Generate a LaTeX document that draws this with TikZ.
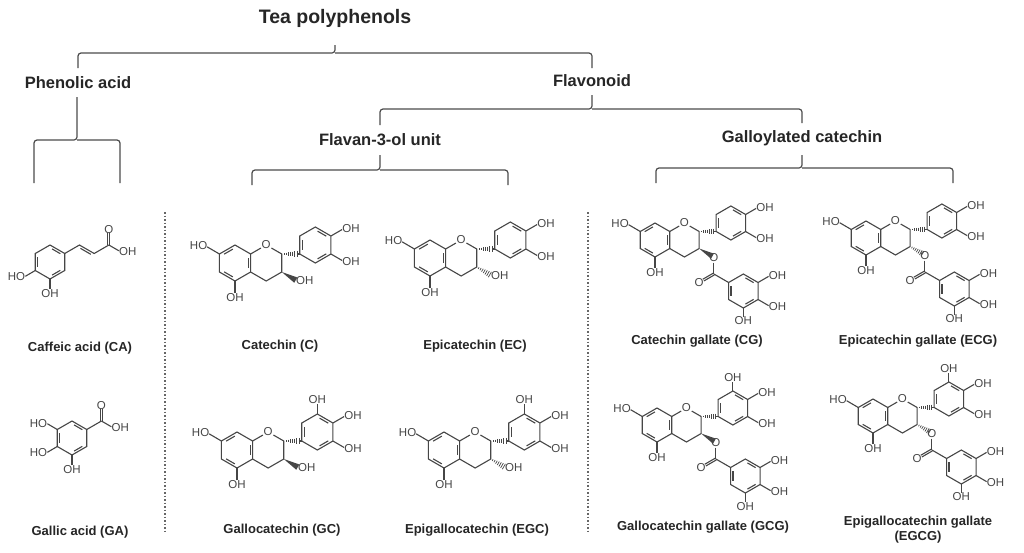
\documentclass[tikz,border=0pt]{standalone}
\usepackage{fontspec}
\setmainfont{Liberation Sans}
\usetikzlibrary{calc}
\definecolor{molc}{RGB}{70,70,70}
\tikzset{
  head/.style={font=\bfseries\fontsize{16.5}{18}\selectfont, text=black!85},
  molname/.style={font=\bfseries\fontsize{13}{15}\selectfont, text=black!85, align=center},
  brace/.style={draw=black!70, line width=1.2pt, rounded corners=3pt},
  sep/.style={draw=black!60, line width=1.5pt, dotted},
  bond/.style={draw=molc, line width=1.1pt},
  lab/.style={font=\fontsize{11.5}{12}\selectfont, text=molc, inner sep=0.6pt},
}
\newcommand{\hexring}[3]{%
  \draw[bond] ($(#1,#2)+(30:1)$) -- ($(#1,#2)+(90:1)$) -- ($(#1,#2)+(150:1)$) -- ($(#1,#2)+(210:1)$) -- ($(#1,#2)+(270:1)$) -- ($(#1,#2)+(330:1)$) -- cycle;
  \foreach \a in {#3}{\draw[bond] ($(#1,#2)+({\a+9}:0.78)$) -- ($(#1,#2)+({\a+51}:0.78)$);}%
}
\newcommand{\hashb}[3]{%
  \foreach \t in {0.12,0.24,...,0.9}{%
    \pgfmathsetmacro{\hh}{0.03+0.17*\t}%
    \draw[draw=molc,line width=0.7pt] ($(#1,#2)+(#3:\t)+({#3+90}:\hh)$) -- ($(#1,#2)+(#3:\t)+({#3-90}:\hh)$);}%
}
\newcommand{\wedgeb}[3]{%
  \fill[molc] (#1,#2) -- ($(#1,#2)+(#3:0.9)+({#3+90}:0.17)$) -- ($(#1,#2)+(#3:0.9)+({#3-90}:0.17)$) -- cycle;}
\newcommand{\flavan}[6]{%
\begin{scope}[shift={(#1,#2)}, x=#6pt, y=#6pt]
  \hexring{0}{0}{330,90,210}
  \node[lab] (ringO) at (1.732,1) {O};
  \draw[bond] (0.866,0.5) -- (ringO);
  \draw[bond] (ringO) -- (2.598,0.5) -- (2.598,-0.5) -- (1.732,-1) -- (0.866,-0.5);
  \draw[bond] (-0.866,0.5) -- (-1.55,0.9);
  \node[lab,anchor=east] (h7) at (-1.5,0.95) {HO};
  \draw[bond] (0,-1) -- (0,-1.65);
  \node[lab,anchor=north] (h5) at (0,-1.63) {OH};
  \hashb{2.598}{0.5}{0}
  \draw[bond] (3.45,0.5) -- (3.598,0.5);
  \hexring{4.464}{1}{30,150,270}
  \draw[bond] (5.33,1.5) -- (5.95,1.86);
  \node[lab,anchor=west] (h3p) at (5.92,1.9) {OH};
  \draw[bond] (5.33,0.5) -- (5.95,0.14);
  \node[lab,anchor=west] (h4p) at (5.92,0.1) {OH};
  \ifnum#3=1
    \draw[bond] (4.464,2) -- (4.464,2.55);
    \node[lab,anchor=south] (h5p) at (4.464,2.53) {OH};
  \fi
  \ifnum#4=1 \hashb{2.598}{-0.5}{330}\else\wedgeb{2.598}{-0.5}{330}\fi
  \ifnum#5=0
    \node[lab,anchor=west] (h3) at (3.35,-1.0) {OH};
  \else
    \node[lab] (eO) at (3.464,-1.05) {O};
    \draw[bond] (eO) -- (3.464,-2);
    \node[lab] (cO) at (2.598,-2.5) {O};
    \draw[bond] ($(3.464,-2)+(120:0.06)$) -- ($(cO.center)+(120:0.06)+(30:0.28)$);
    \draw[bond] ($(3.464,-2)+(300:0.06)$) -- ($(cO.center)+(300:0.06)+(30:0.28)$);
    \draw[bond] (3.464,-2) -- (4.33,-2.5);
    \hexring{5.196}{-3}{150,270,30}
    \draw[bond] (6.062,-2.5) -- (6.68,-2.14);
    \node[lab,anchor=west] (g1) at (6.65,-2.1) {OH};
    \draw[bond] (6.062,-3.5) -- (6.68,-3.86);
    \node[lab,anchor=west] (g2) at (6.65,-3.9) {OH};
    \draw[bond] (5.196,-4) -- (5.196,-4.5);
    \node[lab,anchor=north] (g3) at (5.196,-4.48) {OH};
  \fi
\end{scope}}
\begin{document}
\begin{tikzpicture}[x=1pt,y=-1pt]
\useasboundingbox (0,0) rectangle (1024,552);
\fill[white] (0,0) rectangle (1024,552);
\node[head, font=\bfseries\fontsize{19.5}{21}\selectfont] (tea) at (335,18) {Tea polyphenols};
\node[head] (phen) at (78,83) {Phenolic acid};
\node[head] (flav) at (592,81) {Flavonoid};
\node[head] (f3o) at (380,140) {Flavan-3-ol unit};
\node[head] (gal) at (802,138) {Galloylated catechin};
\draw[brace] (78,68) -- (78,53) -- (335,53) -- (335,45);
\draw[brace] (335,53) -- (592,53) -- (592,68);
\draw[brace] (77,97) -- (77,140) -- (34,140) -- (34,183);
\draw[brace] (77,140) -- (120,140) -- (120,183);
\draw[brace] (380,125) -- (380,109) -- (592,109) -- (592,95);
\draw[brace] (592,109) -- (802,109) -- (802,123);
\draw[brace] (252,185) -- (252,170) -- (380,170) -- (380,155);
\draw[brace] (380,170) -- (508,170) -- (508,185);
\draw[brace] (656,183) -- (656,168) -- (802,168) -- (802,155);
\draw[brace] (802,168) -- (953,168) -- (953,183);
\draw[sep] (165,212) -- (165,533);
\draw[sep] (588,212) -- (588,533);
\begin{scope}[shift={(50,262)}, x=17pt, y=17pt]
  \hexring{0}{0}{30,150,270}
  \draw[bond] (0.866,0.5) -- (1.732,1) -- (2.598,0.5) -- (3.464,1);
  \draw[bond] ($(1.732,1)+(330:0.15)+(240:0.14)$) -- ($(2.598,0.5)+(150:0.15)+(240:0.14)$);
  \node[lab,anchor=south] (caO) at (3.464,1.65) {O};
  \draw[bond] (3.404,1) -- (3.404,1.7);
  \draw[bond] (3.524,1) -- (3.524,1.7);
  \draw[bond] (3.464,1) -- (4.05,0.66);
  \node[lab,anchor=west] (caOH) at (4.02,0.62) {OH};
  \draw[bond] (-0.866,-0.5) -- (-1.45,-0.84);
  \node[lab,anchor=east] (caHO) at (-1.42,-0.86) {HO};
  \draw[bond] (0,-1) -- (0,-1.6);
  \node[lab,anchor=north] (caOH2) at (0,-1.58) {OH};
\end{scope}
\begin{scope}[shift={(72,438)}, x=17pt, y=17pt]
  \hexring{0}{0}{30,150,270}
  \draw[bond] (0.866,0.5) -- (1.732,1);
  \node[lab,anchor=south] (gaO) at (1.732,1.65) {O};
  \draw[bond] (1.672,1) -- (1.672,1.7);
  \draw[bond] (1.792,1) -- (1.792,1.7);
  \draw[bond] (1.732,1) -- (2.32,0.66);
  \node[lab,anchor=west] (gaOH) at (2.29,0.62) {OH};
  \draw[bond] (-0.866,0.5) -- (-1.45,0.84);
  \node[lab,anchor=east] (gaHO1) at (-1.42,0.86) {HO};
  \draw[bond] (-0.866,-0.5) -- (-1.45,-0.84);
  \node[lab,anchor=east] (gaHO2) at (-1.42,-0.86) {HO};
  \draw[bond] (0,-1) -- (0,-1.6);
  \node[lab,anchor=north] (gaOH2) at (0,-1.58) {OH};
\end{scope}
\flavan{235}{263}{0}{0}{0}{18}
\flavan{430}{258}{0}{1}{0}{18}
\flavan{237}{450}{1}{0}{0}{18}
\flavan{444}{450}{1}{1}{0}{18}
\flavan{655}{240}{0}{0}{1}{17}
\flavan{866}{238}{0}{1}{1}{17}
\flavan{657}{425}{1}{0}{1}{17}
\flavan{873}{416}{1}{1}{1}{17}
\node[molname] (nCA) at (80,348) {Caffeic acid (CA)};
\node[molname] (nGA) at (80,532) {Gallic acid (GA)};
\node[molname] (nC) at (280,346) {Catechin (C)};
\node[molname] (nEC) at (475,346) {Epicatechin (EC)};
\node[molname] (nCG) at (697,341) {Catechin gallate (CG)};
\node[molname] (nECG) at (918,341) {Epicatechin gallate (ECG)};
\node[molname] (nGC) at (282,530) {Gallocatechin (GC)};
\node[molname] (nEGC) at (477,530) {Epigallocatechin (EGC)};
\node[molname] (nGCG) at (703,527) {Gallocatechin gallate (GCG)};
\node[molname] (nEGCG) at (918,530) {Epigallocatechin gallate\\(EGCG)};
\end{tikzpicture}
\end{document}
